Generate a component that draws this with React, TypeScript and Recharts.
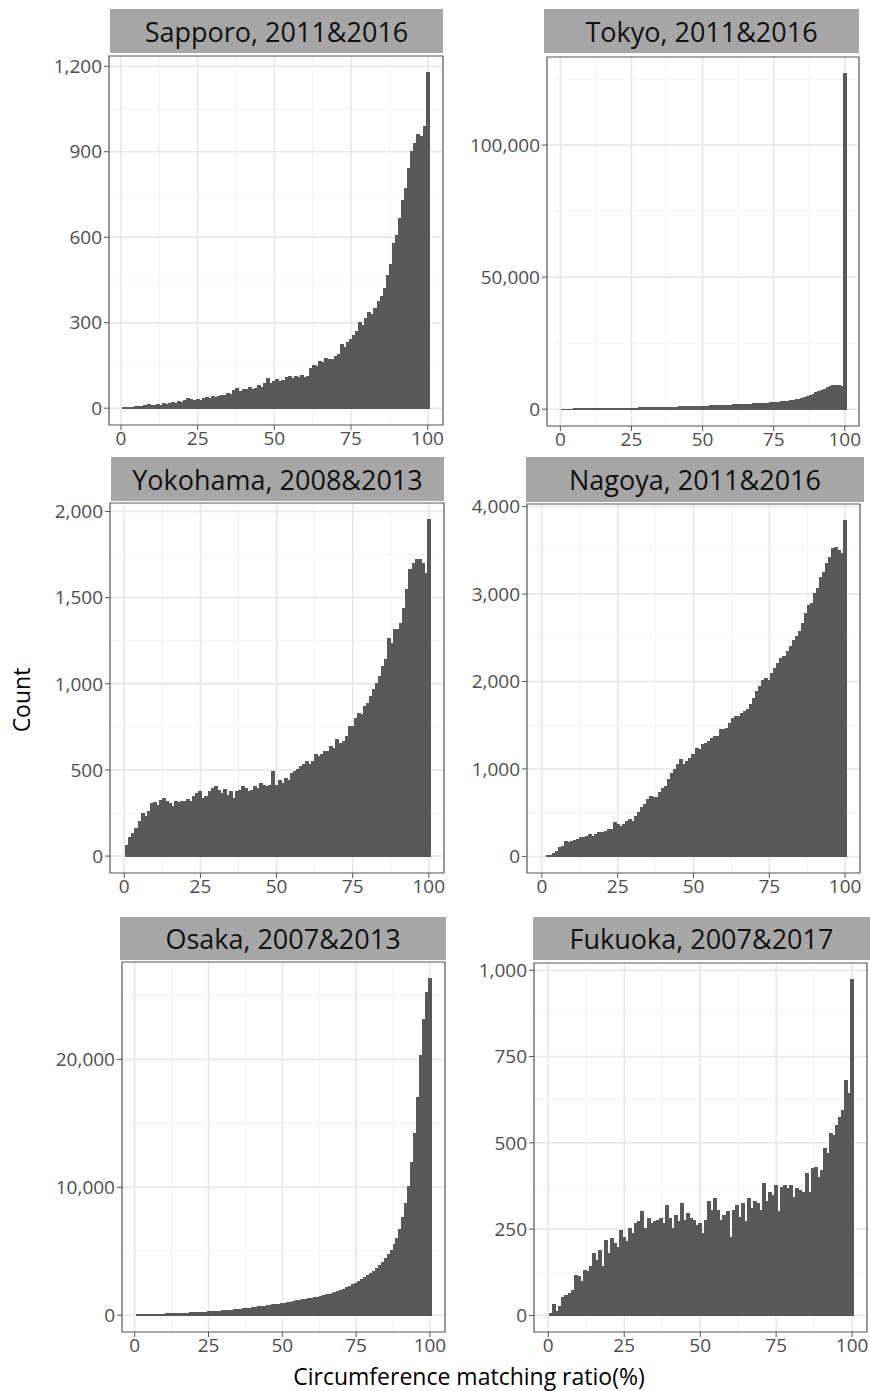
import React from 'react';
import { BarChart, Bar, XAxis, YAxis, CartesianGrid, ReferenceArea } from 'recharts';

// histogram bin centres (matching ratio, %)
const binCenters = Array.from({ length: 100 }, (_, i) => i + 1);

const sapporoCounts = [
  2, 2, 1, 3, 6, 7, 5, 8, 12, 9,
  10, 13, 11, 18, 14, 17, 20, 18, 22, 21,
  27, 33, 30, 28, 32, 27, 35, 38, 33, 42,
  36, 40, 45, 43, 50, 48, 62, 70, 58, 67,
  64, 72, 66, 70, 78, 74, 85, 104, 88, 95,
  100, 92, 98, 106, 110, 104, 112, 108, 114, 106,
  112, 138, 150, 145, 165, 160, 175, 170, 172, 182,
  190, 225, 212, 230, 242, 255, 268, 300, 290, 315,
  335, 330, 350, 375, 392, 420, 465, 505, 578, 605,
  665, 730, 770, 840, 900, 930, 960, 955, 990, 1178,
];

const tokyoCounts = [
  50, 60, 70, 80, 90, 100, 110, 120, 130, 140,
  150, 165, 180, 195, 210, 225, 240, 260, 280, 300,
  320, 340, 360, 380, 400, 420, 445, 470, 495, 520,
  545, 570, 600, 630, 660, 690, 720, 750, 780, 810,
  840, 870, 900, 930, 960, 990, 1020, 1060, 1100, 1140,
  1180, 1220, 1260, 1300, 1340, 1380, 1420, 1470, 1520, 1570,
  1620, 1670, 1720, 1770, 1820, 1880, 1940, 2000, 2060, 2120,
  2190, 2260, 2330, 2410, 2490, 2580, 2680, 2790, 2910, 3050,
  3210, 3390, 3590, 3810, 4200, 4500, 4900, 5300, 5750, 6200,
  6650, 7100, 7600, 8100, 8500, 8800, 8900, 8800, 8700, 127000,
];

const yokohamaCounts = [
  60, 110, 130, 160, 200, 245, 228, 257, 305, 310,
  296, 325, 335, 315, 305, 290, 315, 310, 315, 315,
  329, 315, 345, 364, 374, 335, 345, 374, 393, 403,
  383, 364, 387, 354, 374, 335, 374, 383, 403, 393,
  374, 383, 403, 393, 422, 412, 403, 412, 490, 412,
  441, 422, 451, 441, 480, 490, 500, 519, 529, 548,
  529, 548, 587, 577, 587, 606, 606, 635, 625, 674,
  654, 664, 693, 751, 751, 800, 828, 819, 867, 887,
  925, 964, 1003, 1042, 1100, 1138, 1264, 1235, 1313, 1313,
  1351, 1438, 1545, 1661, 1700, 1719, 1719, 1700, 1642, 1952,
];

const nagoyaCounts = [
  0, 5, 11, 34, 60, 100, 118, 175, 156, 175,
  186, 194, 213, 213, 232, 250, 232, 250, 270, 277,
  289, 308, 308, 384, 365, 346, 365, 403, 422, 403,
  460, 498, 555, 592, 650, 688, 668, 668, 725, 782,
  801, 877, 953, 991, 1048, 1105, 1048, 1086, 1124, 1162,
  1238, 1219, 1276, 1295, 1314, 1352, 1371, 1371, 1447, 1447,
  1466, 1523, 1580, 1599, 1599, 1637, 1656, 1675, 1732, 1808,
  1884, 1941, 2017, 2036, 2017, 2093, 2150, 2207, 2264, 2283,
  2340, 2397, 2472, 2510, 2567, 2662, 2776, 2871, 2890, 3004,
  3061, 3194, 3251, 3346, 3422, 3517, 3536, 3498, 3460, 3840,
];

const osakaCounts = [
  20, 30, 40, 50, 55, 60, 70, 75, 80, 90,
  100, 110, 115, 125, 135, 145, 155, 165, 180, 190,
  200, 215, 225, 240, 260, 275, 290, 305, 325, 345,
  365, 385, 405, 425, 450, 475, 500, 525, 550, 580,
  610, 640, 670, 700, 730, 765, 800, 835, 870, 910,
  950, 990, 1030, 1070, 1110, 1150, 1190, 1230, 1270, 1320,
  1370, 1420, 1470, 1520, 1580, 1640, 1700, 1770, 1850, 1940,
  2030, 2130, 2240, 2360, 2490, 2620, 2760, 2910, 3070, 3240,
  3430, 3640, 3870, 4120, 4400, 4720, 5080, 5500, 6000, 6700,
  7600, 8700, 10100, 11900, 14200, 17000, 20300, 23100, 25200, 26300,
];

const fukuokaCounts = [
  6, 33, 10, 25, 52, 59, 64, 73, 117, 112,
  97, 131, 126, 143, 179, 160, 189, 141, 218, 179,
  223, 208, 198, 247, 227, 213, 251, 237, 266, 271,
  300, 251, 280, 266, 271, 276, 280, 266, 319, 280,
  251, 290, 271, 324, 276, 295, 280, 276, 261, 266,
  237, 276, 329, 304, 338, 304, 276, 290, 300, 227,
  304, 319, 285, 324, 271, 338, 309, 329, 324, 304,
  382, 329, 357, 348, 377, 300, 372, 377, 367, 377,
  343, 367, 362, 357, 410, 357, 425, 430, 401, 420,
  483, 468, 526, 521, 550, 574, 593, 680, 642, 974,
];

const xTicks = [0, 25, 50, 75, 100];
const xMinor = [12.5, 37.5, 62.5, 87.5];

const sapporoTicks = [0, 300, 600, 900, 1200];
const tokyoTicks = [0, 50000, 100000];
const yokohamaTicks = [0, 500, 1000, 1500, 2000];
const nagoyaTicks = [0, 1000, 2000, 3000, 4000];
const osakaTicks = [0, 10000, 20000];
const fukuokaTicks = [0, 250, 500, 750, 1000];

const FONT = '"Open Sans", "Noto Sans", sans-serif';
const BAR = '#595959';
const Y_AXIS_W = 82;
const X_AXIS_H = 40;
const PAD = 14;

const fmt = (v: number) => v.toLocaleString('en-US');
const midpoints = (t: number[]) => t.map((v) => v + (t[1] - t[0]) / 2);

type Box = { left: number; top: number; width: number; height: number };

type PanelProps = {
  title: string;
  counts: number[];
  yTicks: number[];
  xDomain: [number, number];
  yDomain: [number, number];
  strip: Box;
  plot: Box;
};

const Panel = ({ title, counts, yTicks, xDomain, yDomain, strip, plot }: PanelProps) => {
  const data = binCenters.map((x, i) => ({ x, count: counts[i] }));
  const yMinor = midpoints(yTicks).filter((v) => v < yDomain[1]);
  const tickStyle = { fill: '#4d4d4d', fontSize: 19, fontFamily: FONT };
  return (
    <>
      <div style={{ position: 'absolute', left: plot.left - Y_AXIS_W, top: plot.top - PAD }}>
        <BarChart
          width={plot.width + Y_AXIS_W + 3}
          height={plot.height + X_AXIS_H + PAD}
          data={data}
          margin={{ top: PAD, right: 3, left: 0, bottom: 0 }}
          barCategoryGap={0}
          barGap={0}
        >
          <CartesianGrid stroke="#f1f1f1" strokeWidth={1} horizontalValues={yMinor} verticalValues={xMinor} />
          <CartesianGrid stroke="#e6e6e6" strokeWidth={1.5} horizontalValues={yTicks} verticalValues={xTicks} />
          <XAxis
            dataKey="x"
            type="number"
            domain={xDomain}
            ticks={xTicks}
            allowDataOverflow
            axisLine={false}
            tickLine={{ stroke: '#555' }}
            tickSize={5}
            tickMargin={2}
            height={X_AXIS_H}
            tick={tickStyle}
          />
          <YAxis
            type="number"
            domain={yDomain}
            ticks={yTicks}
            allowDataOverflow
            axisLine={false}
            tickLine={{ stroke: '#555' }}
            tickSize={5}
            tickMargin={2}
            width={Y_AXIS_W}
            tickFormatter={fmt}
            tick={tickStyle}
          />
          <Bar
            dataKey="count"
            fill={BAR}
            stroke={BAR}
            strokeWidth={1}
            shapeRendering="crispEdges"
            isAnimationActive={false}
          />
          <ReferenceArea
            x1={xDomain[0]}
            x2={xDomain[1]}
            y1={yDomain[0]}
            y2={yDomain[1]}
            fill="none"
            stroke="#555"
            strokeWidth={1.2}
            ifOverflow="visible"
          />
        </BarChart>
      </div>
      <div
        style={{
          position: 'absolute',
          left: strip.left,
          top: strip.top,
          width: strip.width,
          height: strip.height,
          background: '#a6a6a6',
          color: '#111',
          fontFamily: FONT,
          fontSize: 27,
          display: 'flex',
          alignItems: 'center',
          justifyContent: 'center',
          whiteSpace: 'nowrap',
        }}
      >
        {title}
      </div>
    </>
  );
};

const App = () => (
  <div style={{ position: 'absolute', left: 0, top: 0, width: 870, height: 1391, background: '#fff' }}>
    <Panel
      title="Sapporo, 2011&2016"
      counts={sapporoCounts}
      yTicks={sapporoTicks}
      xDomain={[-3.9, 105]}
      yDomain={[-59, 1236]}
      strip={{ left: 110, top: 9, width: 333, height: 44 }}
      plot={{ left: 109, top: 56, width: 334, height: 369 }}
    />
    <Panel
      title="Tokyo, 2011&2016"
      counts={tokyoCounts}
      yTicks={tokyoTicks}
      xDomain={[-4.7, 105]}
      yDomain={[-6350, 133350]}
      strip={{ left: 544, top: 9, width: 315, height: 44 }}
      plot={{ left: 547, top: 57, width: 312, height: 369 }}
    />
    <Panel
      title="Yokohama, 2008&2013"
      counts={yokohamaCounts}
      yTicks={yokohamaTicks}
      xDomain={[-4.7, 105]}
      yDomain={[-98, 2049]}
      strip={{ left: 111, top: 457, width: 333, height: 44 }}
      plot={{ left: 110, top: 503, width: 334, height: 370 }}
    />
    <Panel
      title="Nagoya, 2011&2016"
      counts={nagoyaCounts}
      yTicks={nagoyaTicks}
      xDomain={[-4.9, 104.9]}
      yDomain={[-190, 4030]}
      strip={{ left: 526, top: 457, width: 338, height: 45 }}
      plot={{ left: 527, top: 504, width: 333, height: 369 }}
    />
    <Panel
      title="Osaka, 2007&2013"
      counts={osakaCounts}
      yTicks={osakaTicks}
      xDomain={[-4.3, 105.1]}
      yDomain={[-1315, 27615]}
      strip={{ left: 120, top: 917, width: 326, height: 43 }}
      plot={{ left: 122, top: 962, width: 323, height: 370 }}
    />
    <Panel
      title="Fukuoka, 2007&2017"
      counts={fukuokaCounts}
      yTicks={fukuokaTicks}
      xDomain={[-4.7, 104.9]}
      yDomain={[-48, 1021]}
      strip={{ left: 533, top: 917, width: 337, height: 43 }}
      plot={{ left: 534, top: 963, width: 333, height: 369 }}
    />
    <div
      style={{
        position: 'absolute',
        left: 21,
        top: 700,
        transform: 'translate(-50%, -50%) rotate(-90deg)',
        fontFamily: FONT,
        fontSize: 23,
        lineHeight: '26px',
        color: '#000',
        whiteSpace: 'nowrap',
      }}
    >
      Count
    </div>
    <div
      style={{
        position: 'absolute',
        left: 469,
        top: 1376,
        transform: 'translate(-50%, -50%)',
        fontFamily: FONT,
        fontSize: 23,
        lineHeight: '26px',
        color: '#000',
        whiteSpace: 'nowrap',
      }}
    >
      Circumference matching ratio(%)
    </div>
  </div>
);

export default App;
